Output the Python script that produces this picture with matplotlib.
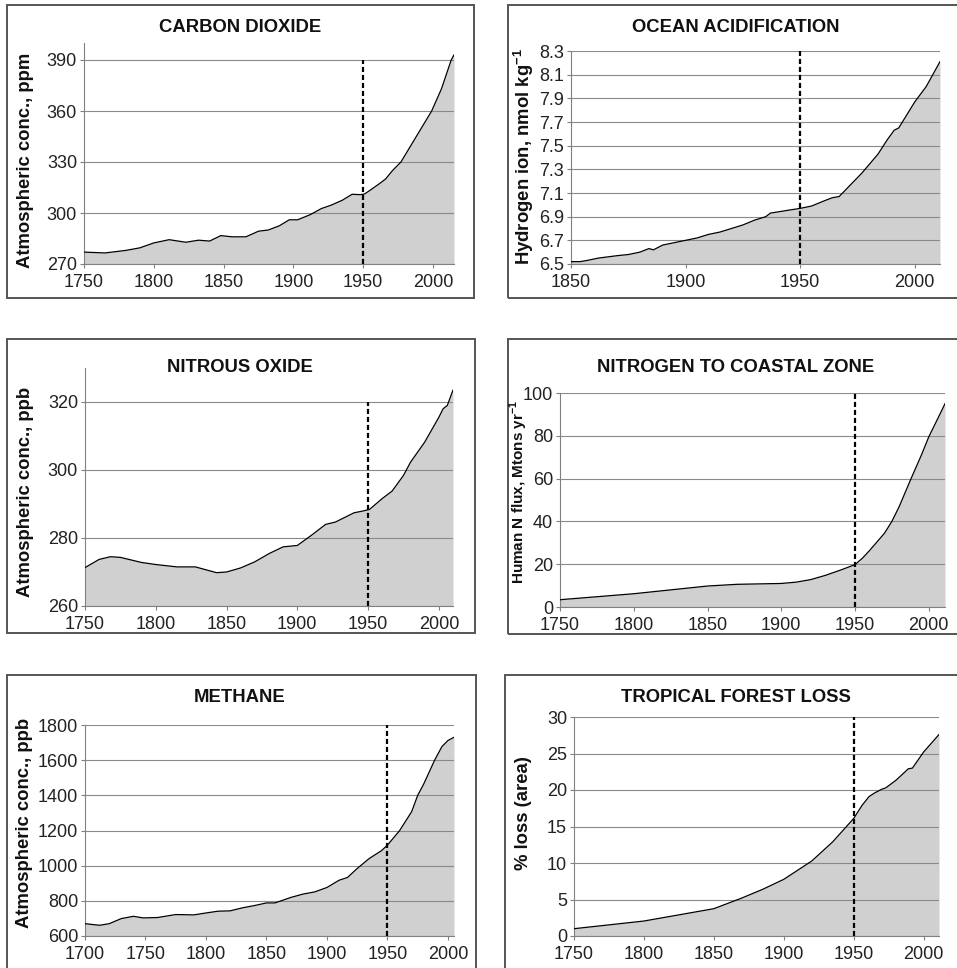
import matplotlib
matplotlib.use('Agg')
import matplotlib.pyplot as plt
from matplotlib.patches import Rectangle

plt.rcParams['font.family'] = ['Liberation Sans', 'DejaVu Sans']
plt.rcParams['mathtext.fontset'] = 'custom'
plt.rcParams['mathtext.rm'] = 'Liberation Sans'
plt.rcParams['mathtext.bf'] = 'Liberation Sans:bold'

W, H = 957, 968
REF_YEAR = 1950

# carbon dioxide, ppm
co2_years = [1750, 1765, 1780, 1790, 1800, 1811, 1823, 1832, 1840, 1848, 1856, 1866, 1875, 1882,
             1890, 1897, 1903, 1912, 1920, 1927, 1935, 1942, 1948, 1951, 1956, 1962, 1966, 1971,
             1977, 1988, 1999, 2006, 2013, 2015]
co2_ppm = [277, 276.5, 278, 279.5, 282.4, 284.3, 282.8, 284, 283.5, 286.7, 286, 286, 289.3, 290,
           292.5, 296, 296, 299, 302.6, 304.6, 307.5, 311, 310.8, 311.2, 314, 317.5, 320, 325,
           330, 345, 360, 373, 390, 393]

# ocean acidification, hydrogen ion nmol/kg
ocean_years = [1850, 1854, 1857, 1862, 1870, 1875, 1880, 1884, 1886, 1890, 1895, 1900, 1905, 1910,
               1915, 1920, 1925, 1930, 1935, 1937, 1945, 1950, 1955, 1960, 1964, 1967, 1970, 1977,
               1984, 1988, 1991, 1993, 2000, 2005, 2011]
ocean_h = [6.52, 6.52, 6.53, 6.55, 6.57, 6.58, 6.60, 6.63, 6.62, 6.66, 6.68, 6.70, 6.72, 6.75,
           6.77, 6.80, 6.83, 6.87, 6.90, 6.93, 6.955, 6.97, 6.99, 7.03, 7.06, 7.07, 7.13, 7.27,
           7.43, 7.55, 7.63, 7.65, 7.87, 8.0, 8.21]

# nitrous oxide, ppb
n2o_years = [1750, 1760, 1768, 1775, 1790, 1800, 1815, 1828, 1835, 1843, 1850, 1860, 1870, 1880,
             1890, 1900, 1910, 1920, 1927, 1940, 1947, 1951, 1960, 1967, 1975, 1980, 1990, 2000,
             2003, 2006, 2010]
n2o_ppb = [271.3, 273.7, 274.5, 274.3, 272.8, 272.2, 271.5, 271.5, 270.7, 269.8, 270, 271.2, 273,
           275.4, 277.4, 277.8, 280.8, 284, 284.7, 287.4, 288, 288.4, 291.6, 293.8, 298.4, 302.3,
           308.2, 315.5, 318, 319, 323.5]

# nitrogen to coastal zone, Mtons/yr
ncoast_years = [1750, 1800, 1850, 1870, 1900, 1910, 1920, 1930, 1940, 1950, 1955, 1960, 1965,
                1970, 1975, 1980, 1988, 1995, 2000, 2005, 2011]
ncoast_flux = [3.4, 6.2, 9.8, 10.6, 11, 11.6, 12.8, 14.8, 17.2, 19.8, 22.8, 26.5, 30.5, 34.5,
               40, 47, 60, 71, 79.5, 86.5, 95]

# methane, ppb
ch4_years = [1700, 1712, 1720, 1730, 1740, 1748, 1760, 1775, 1790, 1800, 1810, 1820, 1830, 1840,
             1850, 1857, 1870, 1880, 1890, 1900, 1910, 1917, 1925, 1935, 1945, 1950, 1960, 1970,
             1975, 1980, 1989, 1995, 2000, 2005]
ch4_ppb = [670, 661, 670, 699, 712, 703, 705, 722, 720, 731, 741, 743, 760, 773, 788, 788, 819,
           838, 851, 876, 917, 933, 984, 1041, 1085, 1117, 1199, 1307, 1400, 1465, 1600, 1677,
           1712, 1730]

# tropical forest loss, % area
trop_years = [1750, 1800, 1850, 1870, 1885, 1900, 1920, 1935, 1950, 1956, 1961, 1965, 1970, 1973,
              1980, 1984, 1989, 1992, 2000, 2011]
trop_loss = [1.0, 2.05, 3.74, 5.2, 6.4, 7.76, 10.27, 12.9, 16.1, 17.9, 19.1, 19.6, 20.1, 20.3,
             21.3, 22, 22.9, 23, 25.2, 27.6]

titles = ['CARBON DIOXIDE', 'OCEAN ACIDIFICATION', 'NITROUS OXIDE',
          'NITROGEN TO COASTAL ZONE', 'METHANE', 'TROPICAL FOREST LOSS']
ylabels = ['Atmospheric conc., ppm', r'Hydrogen ion, nmol kg$^{\mathbf{-1}}$',
           'Atmospheric conc., ppb', r'Human N flux, Mtons yr$^{\mathbf{-1}}$',
           'Atmospheric conc., ppb', '% loss (area)']
series = [(co2_years, co2_ppm), (ocean_years, ocean_h), (n2o_years, n2o_ppb),
          (ncoast_years, ncoast_flux), (ch4_years, ch4_ppb), (trop_years, trop_loss)]
yticks = [list(range(270, 391, 30)),
          [6.5, 6.7, 6.9, 7.1, 7.3, 7.5, 7.7, 7.9, 8.1, 8.3],
          [260, 280, 300, 320],
          [0, 20, 40, 60, 80, 100],
          [600, 800, 1000, 1200, 1400, 1600, 1800],
          [0, 5, 10, 15, 20, 25, 30]]
xticks = [[1750, 1800, 1850, 1900, 1950, 2000],
          [1850, 1900, 1950, 2000],
          [1750, 1800, 1850, 1900, 1950, 2000],
          [1750, 1800, 1850, 1900, 1950, 2000],
          [1700, 1750, 1800, 1850, 1900, 1950, 2000],
          [1750, 1800, 1850, 1900, 1950, 2000]]
xlims = [(1750, 2015), (1850, 2011), (1750, 2010), (1750, 2011), (1700, 2005), (1750, 2011)]
ylims = [(270, 400), (6.5, 8.3), (260, 330), (0, 100), (600, 1800), (0, 30)]

# layout in pixels
axes_px = [(84, 43, 454, 264), (571, 51, 940, 264), (85, 368, 453, 606),
           (560, 393, 945, 607), (85, 725, 454, 936), (574, 717, 939, 936)]
frames_px = [(7, 5, 474, 298), (508, 5, 975, 298), (7, 339, 475, 633),
             (508, 339, 975, 634), (7, 675, 476, 990), (505, 675, 975, 990)]
title_px = [(240, 28), (736, 27), (240, 367), (736, 367), (240, 697), (736, 697)]
ylabel_px = [(26, 160), (524, 157), (26, 492), (519, 492), (25, 823), (524, 813)]
ylabel_size = [13.3, 13.3, 13.3, 11, 13.3, 13.3]


def rect(l, t, r, b):
    return [l / W, 1 - b / H, (r - l) / W, (b - t) / H]


fig = plt.figure(figsize=(W / 100, H / 100), dpi=100)

for i in range(6):
    fl, ft, fr, fb = frames_px[i]
    fig.add_artist(Rectangle((fl / W, 1 - fb / H), (fr - fl) / W, (fb - ft) / H,
                             transform=fig.transFigure, fill=False,
                             edgecolor='#555555', lw=1.4))

    ax = fig.add_axes(rect(*axes_px[i]))
    x, y = series[i]
    ax.fill_between(x, y, ylims[i][0], color='#d0d0d0', lw=0, zorder=1)
    ax.plot(x, y, color='black', lw=0.9, zorder=3)
    ax.vlines(REF_YEAR, ylims[i][0], yticks[i][-1], colors='black', lw=1.6,
              linestyles=(0, (2.3, 1.3)), zorder=4)

    ax.set_xlim(*xlims[i])
    ax.set_ylim(*ylims[i])
    ax.set_xticks(xticks[i])
    ax.set_yticks(yticks[i])
    if i == 1:
        ax.set_yticklabels([f'{v:.1f}' for v in yticks[i]])
    ax.yaxis.grid(True, color='#8a8a8a', lw=0.8)
    ax.set_axisbelow(False)
    for s in ['top', 'right']:
        ax.spines[s].set_visible(False)
    for s in ['left', 'bottom']:
        ax.spines[s].set_color('#808080')
        ax.spines[s].set_linewidth(0.8)
    ax.tick_params(direction='out', length=3, width=0.8, color='#808080',
                   labelsize=13, labelcolor='#222222', pad=2)
    ax.tick_params(axis='x', pad=4.5)

    tx, ty = title_px[i]
    fig.text(tx / W, 1 - ty / H, titles[i], ha='center', va='center',
             fontsize=13.3, fontweight='bold', color='#111111')
    lx, ly = ylabel_px[i]
    fig.text(lx / W, 1 - ly / H, ylabels[i], ha='center', va='center', rotation=90,
             fontsize=ylabel_size[i], fontweight='bold', color='#111111')

fig.savefig('out.png', dpi=100)
